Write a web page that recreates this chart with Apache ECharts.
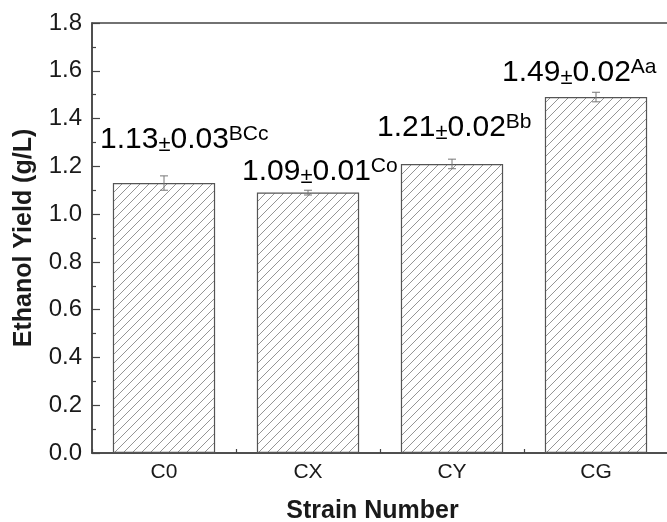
<!DOCTYPE html>
<html>
<head>
<meta charset="utf-8">
<script src="https://cdn.jsdelivr.net/npm/echarts@6/dist/echarts.min.js"></script>
<style>
  html, body { margin: 0; padding: 0; background: #fff; }
  #chart { width: 667px; height: 522px; }
</style>
</head>
<body>
<div id="chart"></div>
<script>
// ---- data ----
const categories = ['C0', 'CX', 'CY', 'CG'];
const yieldMeans = [1.13, 1.09, 1.21, 1.49];
const yieldErrors = [0.03, 0.01, 0.02, 0.02];
const letterGroups = ['BCc', 'Co', 'Bb', 'Aa'];
const yMin = 0, yMax = 1.8, yStep = 0.2;

// ---- layout constants (pixel offsets of the annotation text from bar top centre) ----
const labelOffsets = [[-64, -27], [-66, -5], [-75, -20], [-94, -8]];

const FONT = 'Liberation Sans, Arial, sans-serif';

// hatch pattern
function makeHatch() {
  const s = 9;
  const c = document.createElement('canvas');
  c.width = s; c.height = s;
  const ctx = c.getContext('2d');
  ctx.fillStyle = '#ffffff';
  ctx.fillRect(0, 0, s, s);
  ctx.strokeStyle = '#959595';
  ctx.lineWidth = 1;
  ctx.beginPath();
  ctx.moveTo(0, s); ctx.lineTo(s, 0);
  ctx.moveTo(-1, 1); ctx.lineTo(1, -1);
  ctx.moveTo(s - 1, s + 1); ctx.lineTo(s + 1, s - 1);
  ctx.stroke();
  return c;
}

const chart = echarts.init(document.getElementById('chart'), null, { renderer: 'canvas' });

const labelRich = {
  n: { fontFamily: FONT, fontSize: 30, color: '#1a1a1a', lineHeight: 32, verticalAlign: 'middle' },
  pm: { fontFamily: FONT, fontSize: 22, color: '#555', lineHeight: 26, verticalAlign: 'bottom' },
  s: { fontFamily: FONT, fontSize: 21, color: '#1a1a1a', lineHeight: 20, verticalAlign: 'top' }
};

const option = {
  animation: false,
  backgroundColor: '#ffffff',
  grid: {
    left: 92, right: -1, top: 23, bottom: 69,
    show: true, borderColor: '#444', borderWidth: 1.5, backgroundColor: 'transparent',
    containLabel: false, outerBoundsMode: 'none'
  },
  xAxis: [
    {
      type: 'category', data: categories, position: 'bottom',
      axisLine: { show: true, lineStyle: { color: '#444', width: 1.5 } },
      axisTick: { show: true, inside: true, alignWithLabel: true, length: 7, lineStyle: { color: '#444', width: 1.2 } },
      axisLabel: { fontFamily: FONT, fontSize: 21, color: '#1a1a1a', margin: 9 },
      splitLine: { show: false },
      name: 'Strain Number', nameLocation: 'middle', nameGap: 46,
      nameTextStyle: { fontFamily: FONT, fontSize: 25, fontWeight: 'bold', color: '#1a1a1a', padding: [0, 15, 0, 0] }
    },
    {
      type: 'category', data: categories, position: 'bottom',
      axisLine: { show: false },
      axisTick: { show: true, inside: true, length: 4, lineStyle: { color: '#444', width: 1.2 } },
      axisLabel: { show: false },
      splitLine: { show: false }
    }
  ],
  yAxis: {
    type: 'value', min: yMin, max: yMax, interval: yStep,
    axisLine: { show: true, lineStyle: { color: '#444', width: 1.5 } },
    axisTick: { show: true, inside: true, length: 8, lineStyle: { color: '#444', width: 1.2 } },
    minorTick: { show: true, splitNumber: 2, length: 4, lineStyle: { color: '#444', width: 1.2 } },
    axisLabel: { fontFamily: FONT, fontSize: 24, color: '#1a1a1a', margin: 10, formatter: v => v.toFixed(1) },
    splitLine: { show: false },
    name: 'Ethanol Yield (g/L)', nameLocation: 'middle', nameGap: 55, nameRotate: 90,
    nameTextStyle: { fontFamily: FONT, fontSize: 25, fontWeight: 'bold', color: '#1a1a1a' }
  },
  series: [
    {
      type: 'bar', xAxisIndex: 0, data: yieldMeans, barWidth: '71%',
      itemStyle: { color: { image: makeHatch(), repeat: 'repeat' }, borderColor: '#555', borderWidth: 1.2 },
      z: 2
    },
    {
      type: 'custom', xAxisIndex: 0, z: 3,
      data: yieldMeans.map((m, i) => [i, m, yieldErrors[i]]),
      renderItem: function (params, api) {
        const i = api.value(0), m = api.value(1), e = api.value(2);
        const top = api.coord([i, m + e]);
        const bot = api.coord([i, m - e]);
        const hw = 4;
        const st = { stroke: '#777', lineWidth: 1 };
        return {
          type: 'group',
          children: [
            { type: 'line', shape: { x1: top[0], y1: top[1], x2: bot[0], y2: bot[1] }, style: st },
            { type: 'line', shape: { x1: top[0] - hw, y1: top[1], x2: top[0] + hw, y2: top[1] }, style: st },
            { type: 'line', shape: { x1: bot[0] - hw, y1: bot[1], x2: bot[0] + hw, y2: bot[1] }, style: st }
          ]
        };
      }
    },
    {
      type: 'custom', xAxisIndex: 0, z: 4,
      data: yieldMeans.map((m, i) => [i, m]),
      renderItem: function (params, api) {
        const i = params.dataIndex;
        const p = api.coord([api.value(0), api.value(1)]);
        const off = labelOffsets[i];
        const txt = '{n|' + yieldMeans[i].toFixed(2) + '}{pm|±}{n|' + yieldErrors[i].toFixed(2) + '}{s|' + letterGroups[i] + '}';
        return {
          type: 'text',
          style: {
            x: p[0] + off[0], y: p[1] + off[1],
            text: txt, rich: labelRich,
            align: 'left', verticalAlign: 'bottom'
          }
        };
      }
    }
  ]
};

chart.setOption(option);
</script>
</body>
</html>
